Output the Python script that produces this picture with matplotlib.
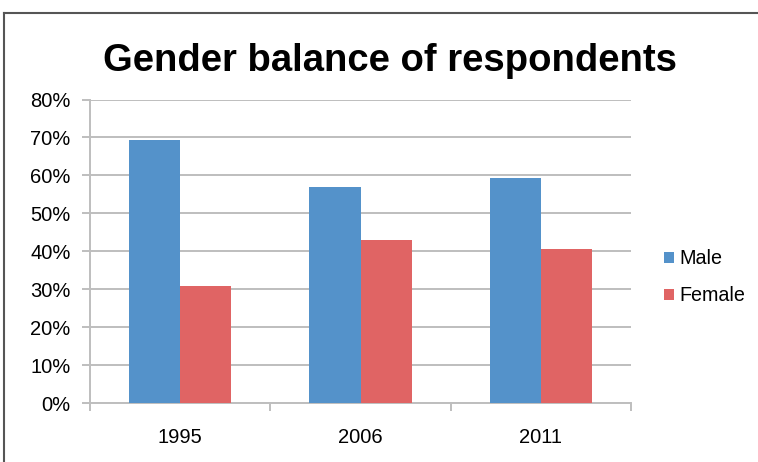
import matplotlib.pyplot as plt
from matplotlib.lines import Line2D
import numpy as np

# data
years = ['1995', '2006', '2011']
male = [69.2, 57.0, 59.4]
female = [30.8, 43.0, 40.6]
yticks = [0, 10, 20, 30, 40, 50, 60, 70, 80]

plt.rcParams['font.family'] = ['Liberation Sans', 'DejaVu Sans']

fig = plt.figure(figsize=(7.58, 4.62), dpi=100)
ax = fig.add_axes([0.1187, 0.1277, 0.7138, 0.6569])

x = np.arange(len(years))
w = 0.283
ax.bar(x - w / 2, male, w, color='#5492CA', label='Male', zorder=3)
ax.bar(x + w / 2, female, w, color='#E06464', label='Female', zorder=3)

ax.set_xlim(-0.5, 2.5)
ax.set_ylim(0, 80)
ax.set_yticks(yticks)
ax.set_yticklabels(['%d%%' % v for v in yticks], fontsize=14.5)
ax.yaxis.grid(True, color='#BEBEBE', linewidth=1.4, zorder=0)

# category labels in the middle, tick marks at the boundaries
ax.set_xticks(x)
ax.set_xticklabels(years, fontsize=14.5)
ax.tick_params(axis='x', length=0, pad=18)
ax.set_xticks([-0.5, 0.5, 1.5, 2.5], minor=True)
ax.tick_params(axis='x', which='minor', length=6, width=1.4, color='#BEBEBE')
ax.tick_params(axis='y', length=6, width=1.4, color='#BEBEBE', pad=8)

for s in ['top', 'right']:
    ax.spines[s].set_visible(False)
for s in ['left', 'bottom']:
    ax.spines[s].set_color('#BEBEBE')
    ax.spines[s].set_linewidth(1.4)

fig.text(0.515, 1 - 71 / 462, 'Gender balance of respondents', ha='center', va='baseline',
         fontsize=27.5, fontweight='bold')

ax.legend(loc='center left', bbox_to_anchor=(1.043, 0.414), frameon=False, fontsize=14.2,
          borderpad=0, handlelength=0.5, handleheight=0.5, handletextpad=0.25,
          labelspacing=0.9)

# outer frame (top and left edges visible)
fig.add_artist(Line2D([4 / 758, 4 / 758], [0, 1 - 13 / 462], color='#555555', linewidth=1.5))
fig.add_artist(Line2D([4 / 758, 1], [1 - 13 / 462, 1 - 13 / 462], color='#555555', linewidth=1.5))

fig.savefig('out.png', dpi=100)
